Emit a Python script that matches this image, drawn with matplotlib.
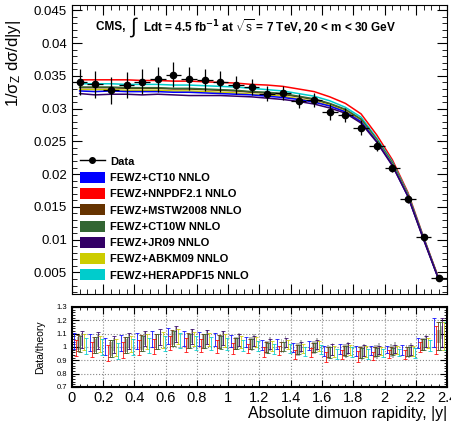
import numpy as np
import matplotlib
matplotlib.use("Agg")
import matplotlib.pyplot as plt
from matplotlib.patches import Patch, Rectangle
from matplotlib.lines import Line2D
from matplotlib.ticker import MultipleLocator

plt.rcParams['font.family'] = ['Liberation Sans', 'DejaVu Sans']
plt.rcParams['mathtext.fontset'] = 'custom'
plt.rcParams['mathtext.rm'] = 'Liberation Sans'
plt.rcParams['mathtext.it'] = 'Liberation Sans'

# bins in |y|
y_centers = [0.05, 0.15, 0.25, 0.35, 0.45, 0.55, 0.65, 0.75, 0.85, 0.95, 1.05, 1.15,
             1.25, 1.35, 1.45, 1.55, 1.65, 1.75, 1.85, 1.95, 2.05, 2.15, 2.25, 2.35]
data_val = [0.0341, 0.0337, 0.0328, 0.0336, 0.0341, 0.0345, 0.0352, 0.0346, 0.0344, 0.0341,
            0.0336, 0.0333, 0.0323, 0.0324, 0.0312, 0.0313, 0.0295, 0.0290, 0.0271, 0.0243,
            0.0210, 0.0162, 0.0104, 0.0041]
data_err = [0.0020, 0.0020, 0.0021, 0.0020, 0.0019, 0.0019, 0.0019, 0.0018, 0.0017, 0.0016,
            0.0014, 0.0012, 0.0012, 0.0011, 0.0011, 0.0011, 0.0012, 0.0011, 0.0011, 0.0008,
            0.0006, 0.0006, 0.0004, 0.0004]

ct10 = [0.0327, 0.0326, 0.0327, 0.0326, 0.0326, 0.0326, 0.0325, 0.0325, 0.0324, 0.0323, 0.0322, 0.0321,
        0.0319, 0.0317, 0.0314, 0.0310, 0.0304, 0.0295, 0.0280, 0.0250, 0.0214, 0.0166, 0.0101, 0.0037]
nnpdf = [0.0344, 0.0344, 0.0344, 0.0344, 0.0343, 0.0343, 0.0342, 0.0342, 0.0341, 0.0340, 0.0339, 0.0337,
         0.0336, 0.0334, 0.0330, 0.0326, 0.0318, 0.0308, 0.0292, 0.0260, 0.0222, 0.0172, 0.0104, 0.0039]
mstw = [0.0332, 0.0332, 0.0332, 0.0331, 0.0331, 0.0331, 0.0330, 0.0330, 0.0329, 0.0328, 0.0327, 0.0325,
        0.0324, 0.0322, 0.0318, 0.0314, 0.0307, 0.0298, 0.0283, 0.0252, 0.0216, 0.0168, 0.0102, 0.0038]
ct10w = [0.0333, 0.0333, 0.0333, 0.0332, 0.0332, 0.0332, 0.0331, 0.0331, 0.0330, 0.0329, 0.0328, 0.0326,
         0.0325, 0.0323, 0.0319, 0.0315, 0.0308, 0.0299, 0.0284, 0.0253, 0.0217, 0.0168, 0.0102, 0.0038]
jr09 = [0.0323, 0.0321, 0.0322, 0.0322, 0.0321, 0.0322, 0.0321, 0.0320, 0.0320, 0.0320, 0.0319, 0.0318,
        0.0316, 0.0314, 0.0311, 0.0307, 0.0301, 0.0293, 0.0278, 0.0249, 0.0213, 0.0166, 0.0100, 0.0037]
abkm = [0.0329, 0.0329, 0.0329, 0.0328, 0.0328, 0.0328, 0.0327, 0.0327, 0.0326, 0.0325, 0.0324, 0.0322,
        0.0321, 0.0319, 0.0315, 0.0311, 0.0305, 0.0296, 0.0281, 0.0251, 0.0215, 0.0167, 0.0101, 0.0038]
hera = [0.0338, 0.0338, 0.0338, 0.0337, 0.0337, 0.0337, 0.0336, 0.0336, 0.0335, 0.0334, 0.0333, 0.0331,
        0.0329, 0.0327, 0.0323, 0.0319, 0.0312, 0.0302, 0.0287, 0.0255, 0.0219, 0.0170, 0.0103, 0.0038]

models = [ct10, nnpdf, mstw, ct10w, jr09, abkm, hera]
labels = ['FEWZ+CT10 NNLO', 'FEWZ+NNPDF2.1 NNLO', 'FEWZ+MSTW2008 NNLO', 'FEWZ+CT10W NNLO',
          'FEWZ+JR09 NNLO', 'FEWZ+ABKM09 NNLO', 'FEWZ+HERAPDF15 NNLO']
colors = ['#0000ff', '#ff0000', '#663300', '#336633', '#330066', '#cccc00', '#00cccc']
draw_order = [1, 6, 2, 3, 5, 0, 4]
ratio_offsets = [-0.035, -0.022, -0.009, 0.004, 0.017, 0.03, 0.043]
grey_box = [False, False, True, True, True, False, False]

fig = plt.figure(figsize=(4.52, 4.28), dpi=100)
ax = fig.add_axes([0.159, 0.313, 0.83, 0.675])
rx = fig.add_axes([0.159, 0.096, 0.83, 0.187])

x = np.array(y_centers)
d = np.array(data_val)
de = np.array(data_err)

for k in draw_order:
    ax.plot(x, models[k], color=colors[k], lw=1.1, zorder=2)

ax.errorbar(x, d, yerr=de, xerr=0.05, fmt='o', color='black', ms=4.5,
            elinewidth=0.9, capsize=0, zorder=5)

ax.set_xlim(0, 2.4)
ax.set_ylim(0.0017, 0.0458)
ax.xaxis.set_major_locator(MultipleLocator(0.2))
ax.xaxis.set_minor_locator(MultipleLocator(0.05))
ax.yaxis.set_minor_locator(MultipleLocator(0.001))
ax.set_yticks([0.005, 0.01, 0.015, 0.02, 0.025, 0.03, 0.035, 0.04, 0.045])
ax.set_yticklabels(['0.005', '0.01', '0.015', '0.02', '0.025', '0.03', '0.035', '0.04', '0.045'])
ax.xaxis.set_ticklabels([])
ax.tick_params(which='both', direction='in', top=True, right=True, labelsize=9.5)
ax.tick_params(which='major', length=7)
ax.tick_params(which='minor', length=3.5)
ax.set_ylabel(r'1/$\sigma_{Z}$ d$\sigma$/d|y|', fontsize=12)
ax.yaxis.set_label_coords(-0.13, 0.80)

# title line with a tall integral sign
t1 = ax.text(0.065, 0.925, 'CMS, ', transform=ax.transAxes, fontsize=8.5,
             fontweight='bold', va='center')
t2 = ax.annotate(r'$\int$', xy=(1, 0.5), xycoords=t1, fontsize=15,
                 va='center', ha='left')
ax.annotate(r'Ldt = 4.5 fb$^{\mathbf{-1}}$ at $\sqrt{s}$ = 7 TeV, 20 < m < 30 GeV',
            xy=(1, 0.5), xycoords=t2, xytext=(3, 0), textcoords='offset points',
            fontsize=8.5, fontweight='bold', va='center', ha='left')

handles = [Line2D([], [], color='black', marker='o', ms=4, lw=1)]
handles += [Patch(facecolor=c, edgecolor='none') for c in colors]
ax.legend(handles, ['Data'] + labels, loc='upper left', bbox_to_anchor=(0.01, 0.495),
          frameon=False, prop={'weight': 'bold', 'size': 8}, handlelength=2.2,
          handleheight=1.15, labelspacing=0.45, handletextpad=0.5, borderaxespad=0)

# ratio panel
for k in range(7):
    t = np.array(models[k])
    r = d / t
    re = de / t
    xs = x + ratio_offsets[k]
    if grey_box[k]:
        for xi, ri in zip(xs, r):
            rx.add_patch(Rectangle((xi - 0.006, ri - 0.05), 0.012, 0.10,
                                   facecolor='#999999', edgecolor='none', alpha=0.7, zorder=1))
    rx.errorbar(xs, r, yerr=re, fmt='none', ecolor=colors[k], elinewidth=0.7,
                capsize=1.5, capthick=0.7, alpha=0.8, zorder=2)

rx.set_xlim(0, 2.4)
rx.set_ylim(0.7, 1.3)
rx.xaxis.set_minor_locator(MultipleLocator(0.05))
rx.yaxis.set_minor_locator(MultipleLocator(0.02))
rx.set_yticks([0.7, 0.8, 0.9, 1.0, 1.1, 1.2, 1.3])
rx.set_yticklabels(['0.7', '0.8', '0.9', '1', '1.1', '1.2', '1.3'])
rx.set_xticks([0, 0.2, 0.4, 0.6, 0.8, 1.0, 1.2, 1.4, 1.6, 1.8, 2.0, 2.2, 2.4])
rx.set_xticklabels(['0', '0.2', '0.4', '0.6', '0.8', '1', '1.2', '1.4', '1.6', '1.8', '2', '2.2', '2.4'])
rx.grid(True, which='major', linestyle=':', color='#888888', lw=0.8)
rx.tick_params(which='both', direction='in', top=True, right=True)
rx.tick_params(axis='y', labelsize=5.5)
rx.tick_params(axis='x', labelsize=10.5, pad=3)
rx.tick_params(which='major', length=5)
rx.tick_params(which='minor', length=2.5)
for sp in rx.spines.values():
    sp.set_linewidth(1.5)
rx.set_ylabel('Data/theory', fontsize=7.5)
rx.yaxis.set_label_coords(-0.072, 0.5)
rx.set_xlabel('Absolute dimuon rapidity, |y|', fontsize=11.5)
rx.xaxis.set_label_coords(1.0, -0.24)
rx.xaxis.label.set_horizontalalignment('right')
rx.xaxis.label.set_verticalalignment('top')

fig.savefig('out.png', dpi=100)
